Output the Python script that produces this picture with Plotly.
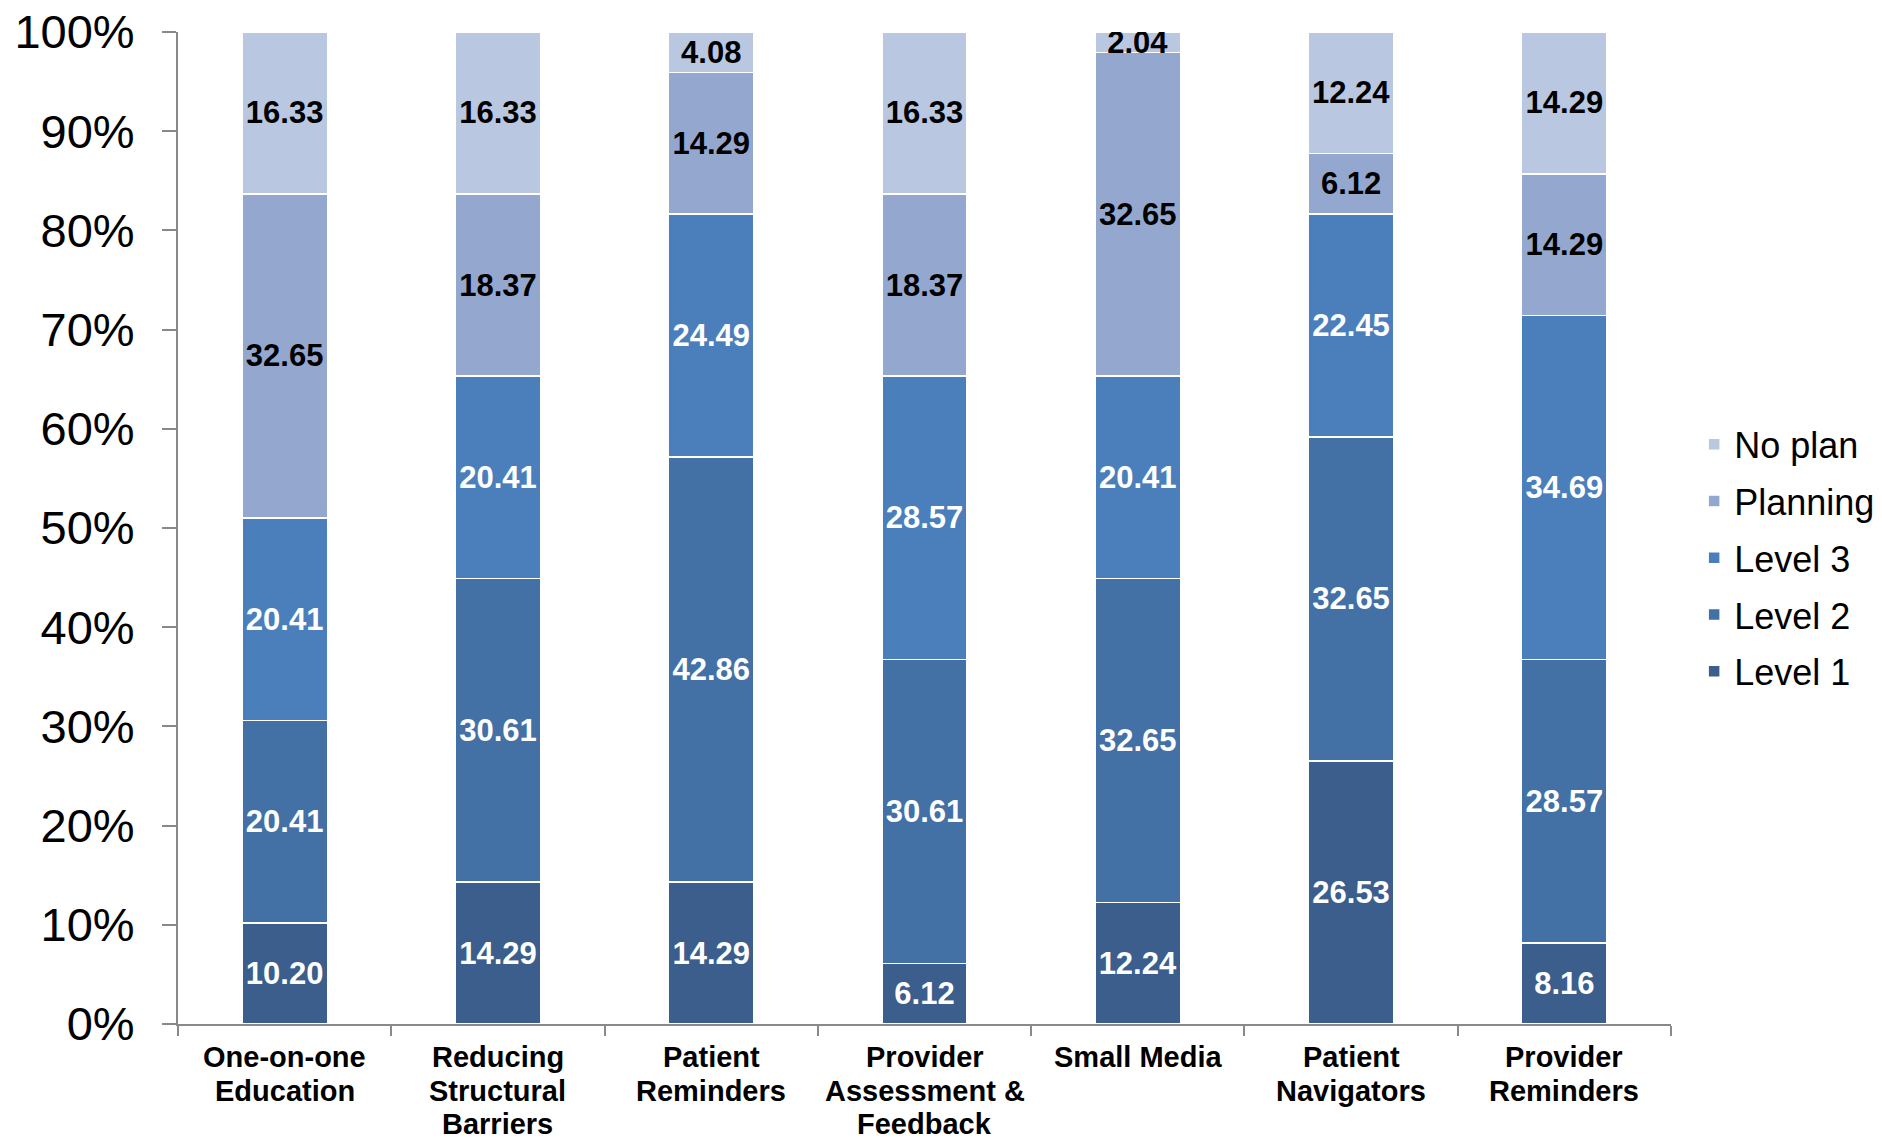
import plotly.graph_objects as go

categories = ["One-on-one Education", "Reducing Structural Barriers", "Patient Reminders",
              "Provider Assessment & Feedback", "Small Media", "Patient Navigators",
              "Provider Reminders"]
category_lines = [["One-on-one", "Education"], ["Reducing", "Structural", "Barriers"],
                  ["Patient", "Reminders"], ["Provider", "Assessment &", "Feedback"],
                  ["Small Media"], ["Patient", "Navigators"], ["Provider", "Reminders"]]
level1 = [10.20, 14.29, 14.29, 6.12, 12.24, 26.53, 8.16]
level2 = [20.41, 30.61, 42.86, 30.61, 32.65, 32.65, 28.57]
level3 = [20.41, 20.41, 24.49, 28.57, 20.41, 22.45, 34.69]
planning = [32.65, 18.37, 14.29, 18.37, 32.65, 6.12, 14.29]
no_plan = [16.33, 16.33, 4.08, 16.33, 2.04, 12.24, 14.29]

series = [
    ("Level 1", level1, "#3B5E8C", "white", 5),
    ("Level 2", level2, "#4371A6", "white", 4),
    ("Level 3", level3, "#4B7FBC", "white", 3),
    ("Planning", planning, "#94A8CF", "black", 2),
    ("No plan", no_plan, "#B9C7E0", "black", 1),
]

FONT = "Liberation Sans, Arial, sans-serif"

fig = go.Figure()
for name, vals, color, tcolor, rank in series:
    fig.add_trace(go.Bar(
        x=categories, y=vals, name=name, legendgroup=name, legendrank=rank,
        marker=dict(color=color, line=dict(color="white", width=1.5)),
        text=[f"{v:.2f}" for v in vals], textposition="inside",
        insidetextanchor="middle", constraintext="none",
        textfont=dict(family=FONT, size=31, color=tcolor, weight="bold"),
        hoverinfo="skip",
    ))

# multi-line category labels with tighter line spacing
for cat, lines in zip(categories, category_lines):
    for i, line in enumerate(lines):
        fig.add_annotation(
            x=cat, xref="x", y=0, yref="paper", yanchor="middle",
            yshift=-(33 + 33.6 * i), text=line, showarrow=False,
            font=dict(family=FONT, size=29, color="black", weight="bold"),
        )

fig.update_layout(
    template="none",
    barmode="stack", bargap=0.6,
    width=1882, height=1139,
    margin=dict(l=178, r=211, t=32, b=115, autoexpand=False),
    paper_bgcolor="white", plot_bgcolor="white",
    uniformtext=dict(minsize=31, mode="show"),
    font=dict(family=FONT, color="black"),
    legend=dict(x=1.0155, y=0.47, xanchor="left", yanchor="middle",
                traceorder="grouped", tracegroupgap=7,
                font=dict(size=36, family=FONT), itemwidth=30),
    showlegend=True,
)
fig.update_xaxes(
    automargin=False, showline=True, linecolor="#898989", linewidth=2,
    ticks="outside", tickson="boundaries", ticklen=10, tickcolor="#898989", tickwidth=2,
    showticklabels=False,
    showgrid=False, zeroline=False,
)
fig.update_yaxes(
    automargin=False, range=[0, 100], dtick=10, ticksuffix="%",
    showline=True, linecolor="#898989", linewidth=2,
    ticks="outside", ticklen=14, tickcolor="#898989", tickwidth=2,
    ticklabelstandoff=18,
    tickfont=dict(size=47, family=FONT, color="black"),
    showgrid=False, zeroline=False,
)

fig.write_html("out.html")
